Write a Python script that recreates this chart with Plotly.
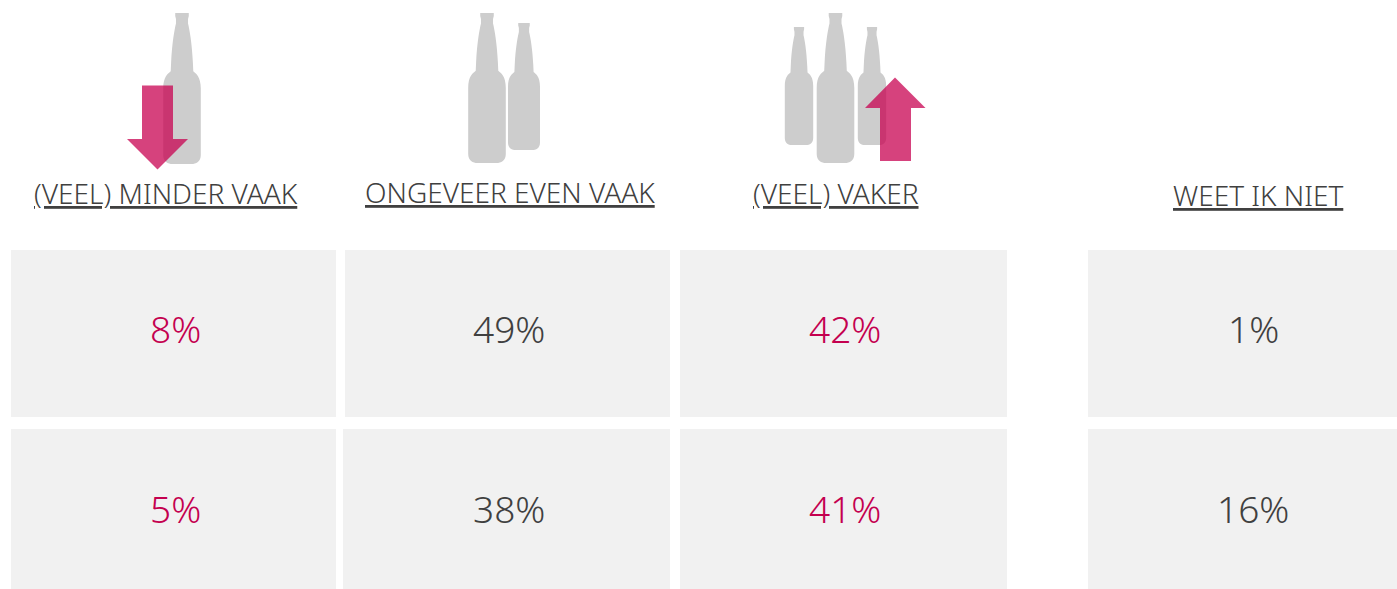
import plotly.graph_objects as go

categories = ["(VEEL) MINDER VAAK", "ONGEVEER EVEN VAAK", "(VEEL) VAKER", "WEET IK NIET"]
row_1_values = [8, 49, 42, 1]
row_2_values = [5, 38, 41, 16]
highlighted = [True, False, True, False]

GREY_TEXT = "#404040"
PINK_TEXT = "#C4004F"
CELL = "#F1F1F1"
BOTTLE = "#CDCDCD"
ARROW = "rgba(200,0,80,0.74)"
FONT = "Noto Sans"

label_pos = [(166, 193), (509.5, 192), (835.5, 193), (1257.5, 195)]
row_layout = [
    dict(y0=250, y1=417, ymid=328.5, cols=[(11, 336), (345, 670), (680, 1007), (1088, 1397)], tx=[175, 509, 844.5, 1253.5]),
    dict(y0=429, y1=589, ymid=508.5, cols=[(11, 336), (343, 670), (680, 1007), (1088, 1397)], tx=[175, 508.5, 844.5, 1253]),
]
# centre x, half width, top y, bottom y
bottles = [(182, 18.8, 13, 164), (487, 18.8, 13, 163), (524, 16, 23, 150),
           (799, 14.2, 27, 145), (835.5, 18.8, 13, 163), (872, 14.2, 27, 145)]

# right-hand outline of a unit bottle, from the lip down: (half-width fraction, height fraction)
OUTLINE = [
    ("L", (0.36, 0.0)), ("L", (0.36, 0.02)), ("L", (0.32, 0.04)), ("L", (0.32, 0.07)),
    ("C", (0.40, 0.11), (0.53, 0.20), (0.58, 0.33)), ("L", (0.60, 0.385)),
    ("C", (0.74, 0.40), (1.0, 0.42), (1.0, 0.50)), ("L", (1.0, 0.94)),
    ("C", (1.0, 0.985), (0.75, 1.0), (0.5, 1.0)),
]


def bottle_path(cx, hw, top, bottom):
    h = bottom - top
    P = lambda s, p: f"{cx + s * p[0] * hw:.2f},{top + p[1] * h:.2f}"
    d = f"M{P(-1, OUTLINE[0][1])}"
    for seg in OUTLINE:
        if seg[0] == "L":
            d += f" L{P(1, seg[1])}"
        else:
            d += " C" + " ".join(P(1, p) for p in seg[1:])
    for i in range(len(OUTLINE) - 1, 0, -1):
        seg = OUTLINE[i]
        before = OUTLINE[i - 1][-1]
        if seg[0] == "L":
            d += f" L{P(-1, before)}"
        else:
            if i == len(OUTLINE) - 1:
                d += f" L{P(-1, seg[3])}"
            d += f" C{P(-1, seg[2])} {P(-1, seg[1])} {P(-1, before)}"
    return d + " Z"


shapes = []
for row in row_layout:
    for x0, x1 in row["cols"]:
        shapes.append(dict(type="rect", x0=x0, x1=x1, y0=row["y0"], y1=row["y1"],
                           fillcolor=CELL, line_width=0, layer="below"))
for b in bottles:
    shapes.append(dict(type="path", path=bottle_path(*b), fillcolor=BOTTLE, line_width=0, layer="below"))

shapes.append(dict(type="path", fillcolor=ARROW, line_width=0, layer="above",
                   path="M142,85.5 L173,85.5 L173,139 L188,139 L157.5,169.5 L127,139 L142,139 Z"))
shapes.append(dict(type="path", fillcolor=ARROW, line_width=0, layer="above",
                   path="M880,161 L911,161 L911,108 L925.5,108 L895,77.5 L865,108 L880,108 Z"))

annotations = []
for name, (x, y) in zip(categories, label_pos):
    annotations.append(dict(x=x, y=y, text=f"<u>{name}</u>", showarrow=False, xanchor="center", yanchor="middle",
                            font=dict(family=FONT, size=28, color=GREY_TEXT, weight=300)))
for row, values in zip(row_layout, [row_1_values, row_2_values]):
    for x, v, hi in zip(row["tx"], values, highlighted):
        annotations.append(dict(x=x, y=row["ymid"], text=f"{v}%", showarrow=False, xanchor="center", yanchor="middle",
                                font=dict(family=FONT, size=37, color=PINK_TEXT if hi else GREY_TEXT, weight=300)))

fig = go.Figure()
fig.update_layout(
    width=1397, height=589, margin=dict(l=0, r=0, t=0, b=0),
    paper_bgcolor="white", plot_bgcolor="white", showlegend=False,
    xaxis=dict(range=[0, 1397], visible=False, fixedrange=True),
    yaxis=dict(range=[589, 0], visible=False, fixedrange=True),
    shapes=shapes, annotations=annotations,
)
fig.write_html("out.html", config=dict(displayModeBar=False),
               post_script="document.body.style.margin='0';document.documentElement.style.overflow='hidden';")
